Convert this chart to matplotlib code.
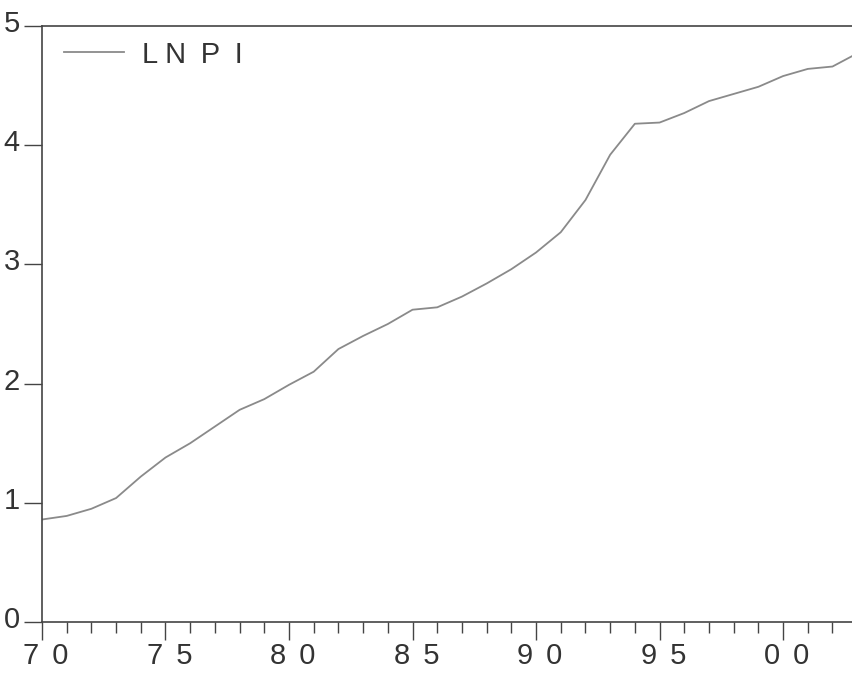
import numpy as np
import matplotlib
matplotlib.use("Agg")
import matplotlib.pyplot as plt
from matplotlib.ticker import MultipleLocator, FixedLocator
from matplotlib.transforms import ScaledTranslation

years = np.arange(1970, 2004)
lnpi = [0.86, 0.89, 0.95, 1.04, 1.22, 1.38, 1.50, 1.64, 1.78, 1.87,
        1.99, 2.10, 2.29, 2.40, 2.50, 2.62, 2.64, 2.73, 2.84, 2.96,
        3.10, 3.27, 3.54, 3.92, 4.18, 4.19, 4.27, 4.37, 4.43, 4.49,
        4.58, 4.64, 4.66, 4.77]
xtick_years = [1970, 1975, 1980, 1985, 1990, 1995, 2000]
sp = " \u2006"
xtick_labels = ["7" + sp + "0", "7" + sp + "5", "8" + sp + "0", "8" + sp + "5",
                "9" + sp + "0", "9" + sp + "5", "0" + sp + "0"]
series_name = "L N\u2002P\u2002I"

plt.rcParams['font.family'] = ['Liberation Sans', 'DejaVu Sans']

fig = plt.figure(figsize=(8.53, 6.77), dpi=100)
ax = fig.add_axes([0.0492, 0.0812, 0.9508, 0.8804])

ax.plot(years, lnpi, color='#8a8a8a', lw=1.3, label=series_name)

ax.set_xlim(1970, 2002.83)
ax.set_ylim(0, 5)

ax.xaxis.set_major_locator(FixedLocator(xtick_years))
ax.set_xticklabels(xtick_labels)
ax.xaxis.set_minor_locator(MultipleLocator(1))
ax.yaxis.set_major_locator(MultipleLocator(1))

for s in ['left', 'bottom', 'top']:
    ax.spines[s].set_color('#444444')
    ax.spines[s].set_linewidth(1.2)
ax.spines['right'].set_visible(False)

ax.tick_params(axis='x', which='major', direction='out', length=13, width=1.0,
               colors='#444444', labelsize=21, labelcolor='#333333', pad=1.5)
ax.tick_params(axis='x', which='minor', direction='out', length=8, width=1.0,
               colors='#444444')
ax.tick_params(axis='y', which='major', direction='out', length=13, width=1.0,
               colors='#444444', labelsize=21, labelcolor='#333333', pad=3)

# y labels sit a little above their ticks
shift = ScaledTranslation(0, 0.05, fig.dpi_scale_trans)
for lab in ax.get_yticklabels():
    lab.set_transform(lab.get_transform() + shift)
# x labels a little right of their ticks
shift_x = ScaledTranslation(0.04, 0, fig.dpi_scale_trans)
for lab in ax.get_xticklabels():
    lab.set_transform(lab.get_transform() + shift_x)

leg = ax.legend(loc='upper left', bbox_to_anchor=(0.0092, 1.0), frameon=False,
                fontsize=21, handlelength=2.07, handletextpad=0.6,
                borderaxespad=0.2, borderpad=0.3)
for t in leg.get_texts():
    t.set_color('#333333')

fig.savefig('out.png', dpi=100, facecolor='white')
